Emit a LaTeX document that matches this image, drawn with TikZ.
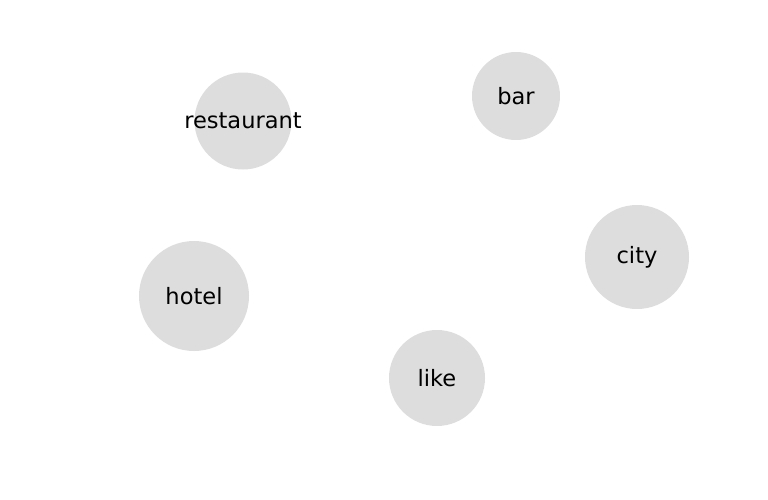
\documentclass[tikz,border=0pt]{standalone}
\usepackage{fontspec}
\setmainfont{DejaVu Sans}
\usepackage{tikz}
\usetikzlibrary{positioning}
\definecolor{wordgray}{HTML}{DDDDDD}

\begin{document}
\begin{tikzpicture}[
  x=0.75pt, y=-0.75pt,
  word/.style={circle, fill=wordgray, draw=none, inner sep=0pt},
  wordtext/.style={text=black, font=\fontsize{16.9}{20}\selectfont}
]
  % Canvas
  \useasboundingbox (0,0) rectangle (768,500);
  % Word bubbles (text may run past the bubble)
  \node[word, minimum size=72.75pt, label={[wordtext]center:restaurant}] (restaurant) at (243,121) {};
  \node[word, minimum size=66pt, label={[wordtext]center:bar}] (bar) at (516,96) {};
  \node[word, minimum size=78pt, label={[wordtext]center:city}] (city) at (637,257) {};
  \node[word, minimum size=82.5pt, label={[wordtext]center:hotel}] (hotel) at (194,296) {};
  \node[word, minimum size=72pt, label={[wordtext]center:like}] (like) at (437,378) {};
\end{tikzpicture}
\end{document}
